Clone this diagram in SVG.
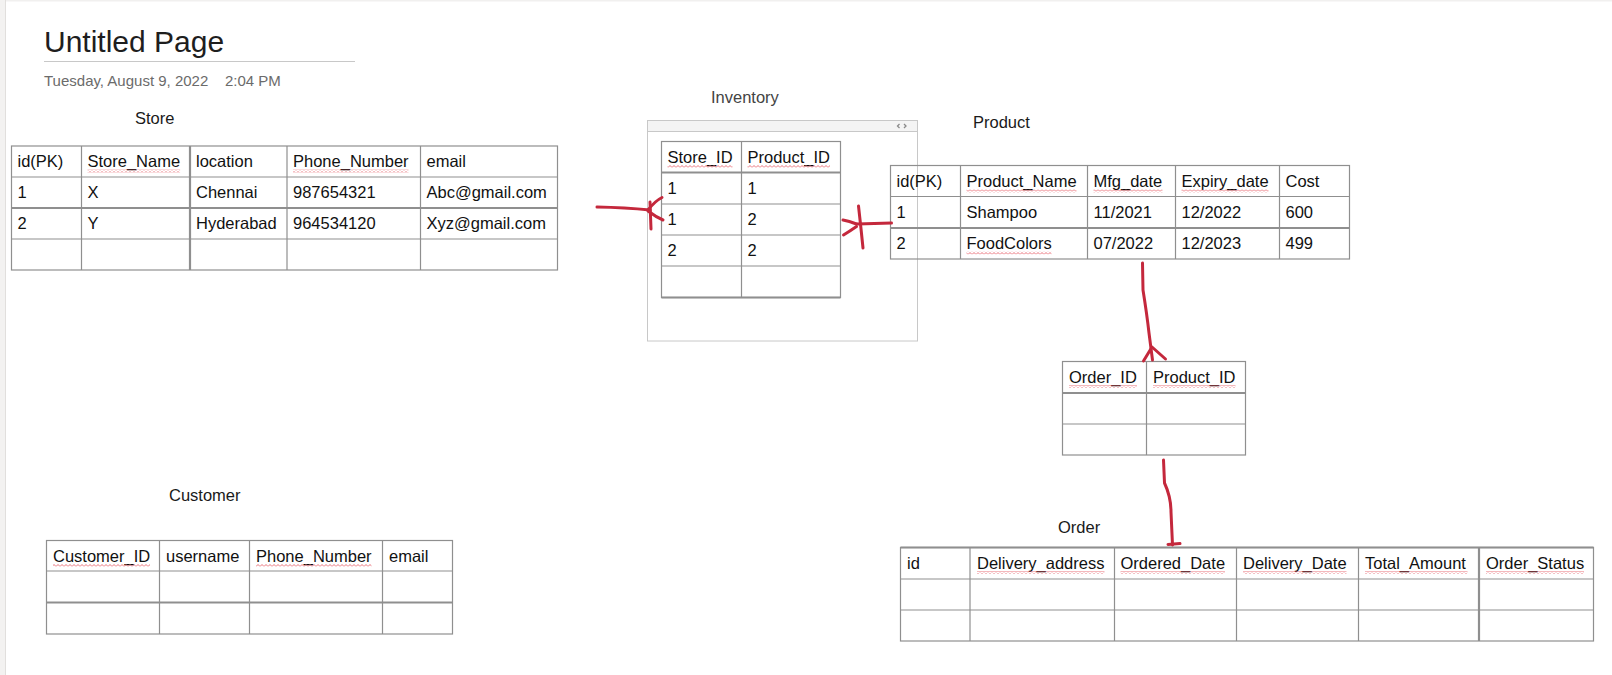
<svg xmlns="http://www.w3.org/2000/svg" width="1612" height="675" viewBox="0 0 1612 675">
<style>
.t{font-family:"Liberation Sans",Arial,sans-serif;font-size:16.5px;fill:#111}
.lbl{font-family:"Liberation Sans",Arial,sans-serif;font-size:16.5px;fill:#1a1a1a}
.g{stroke:#8f8f8f;stroke-width:1.2;fill:none}
.gt{stroke:#8f8f8f;stroke-width:2.2;fill:none}
.c{stroke:#c4283c;stroke-width:3;fill:none;stroke-linecap:round;stroke-linejoin:round}
.sq{fill:url(#squig)}
</style>
<defs>
<pattern id="squig" width="4" height="3" patternUnits="userSpaceOnUse">
<path d="M0 2.5 L2 0.5 L4 2.5" stroke="#e8626a" stroke-width="0.9" fill="none"/>
</pattern>
</defs>
<rect x="0" y="0" width="1612" height="675" fill="#fff"/>
<rect x="0" y="0" width="1612" height="1.5" fill="#f1f0ef"/>
<rect x="0" y="0" width="5" height="675" fill="#f3f2f1"/>
<line x1="5.5" y1="0" x2="5.5" y2="675" stroke="#e1dfdd"/>

<g id="page-title">
<text x="44" y="52" style="font-family:'Liberation Sans',Arial,sans-serif;font-size:30px;fill:#1e1e1e">Untitled Page</text>
<line x1="44" y1="61.5" x2="355" y2="61.5" stroke="#c8c8c8" stroke-width="1"/>
<text x="44" y="86" style="font-family:'Liberation Sans',Arial,sans-serif;font-size:15px;fill:#6b6b6b">Tuesday, August 9, 2022</text>
<text x="225" y="86" style="font-family:'Liberation Sans',Arial,sans-serif;font-size:15px;fill:#6b6b6b">2:04 PM</text>
</g>

<g id="store">
<text class="lbl" x="135" y="124">Store</text>
<rect class="g" x="11.5" y="146" width="546" height="124"/>
<line class="g" x1="11.5" y1="177" x2="557.5" y2="177"/>
<line class="gt" x1="11.5" y1="208" x2="557.5" y2="208"/>
<line class="g" x1="11.5" y1="239" x2="557.5" y2="239"/>
<line class="g" x1="81.5" y1="146" x2="81.5" y2="270"/>
<line class="gt" x1="190" y1="146" x2="190" y2="270"/>
<line class="g" x1="287" y1="146" x2="287" y2="270"/>
<line class="g" x1="420.5" y1="146" x2="420.5" y2="270"/>
<text class="t" x="17.5" y="167">id(PK)</text>
<text class="t" x="87.5" y="167">Store_Name</text>
<rect class="sq" x="87.5" y="169.5" width="92.6" height="3"/>
<text class="t" x="196" y="167">location</text>
<text class="t" x="293" y="167">Phone_Number</text>
<rect class="sq" x="293" y="169.5" width="115.5" height="3"/>
<text class="t" x="426.5" y="167">email</text>
<text class="t" x="17.5" y="198">1</text>
<text class="t" x="87.5" y="198">X</text>
<text class="t" x="196" y="198">Chennai</text>
<text class="t" x="293" y="198">987654321</text>
<text class="t" x="426.5" y="198">Abc@gmail.com</text>
<text class="t" x="17.5" y="229">2</text>
<text class="t" x="87.5" y="229">Y</text>
<text class="t" x="196" y="229">Hyderabad</text>
<text class="t" x="293" y="229">964534120</text>
<text class="t" x="426.5" y="229">Xyz@gmail.com</text>
</g>

<g id="inventory">
<text class="lbl" x="711" y="103" style="fill:#444">Inventory</text>
<rect x="647.5" y="120.5" width="270" height="220.5" fill="none" stroke="#c8c8c8"/>
<rect x="647.5" y="120.5" width="270" height="11" fill="#f4f4f4" stroke="#c8c8c8"/>
<path d="M899.5 124 L897.5 126 L899.5 128 M904 124 L906 126 L904 128" stroke="#8a8a8a" stroke-width="1.3" fill="none"/>
<rect class="g" x="661.5" y="141.5" width="179" height="156"/>
<line class="gt" x1="661.5" y1="172.5" x2="840.5" y2="172.5"/>
<line class="g" x1="661.5" y1="204" x2="840.5" y2="204"/>
<line class="g" x1="661.5" y1="235" x2="840.5" y2="235"/>
<line class="g" x1="661.5" y1="266" x2="840.5" y2="266"/>
<line class="gt" x1="661.5" y1="297.5" x2="840.5" y2="297.5"/>
<line class="g" x1="741.5" y1="141.5" x2="741.5" y2="297.5"/>
<text class="t" x="667.5" y="162.5">Store_ID</text>
<rect class="sq" x="667.5" y="165" width="65" height="3"/>
<text class="t" x="747.5" y="162.5">Product_ID</text>
<rect class="sq" x="747.5" y="165" width="82.5" height="3"/>
<text class="t" x="667.5" y="194">1</text>
<text class="t" x="747.5" y="194">1</text>
<text class="t" x="667.5" y="225">1</text>
<text class="t" x="747.5" y="225">2</text>
<text class="t" x="667.5" y="256">2</text>
<text class="t" x="747.5" y="256">2</text>
</g>

<g id="product">
<text class="lbl" x="973" y="128">Product</text>
<rect class="g" x="890.5" y="165.5" width="459" height="93.5"/>
<line class="g" x1="890.5" y1="196.5" x2="1349.5" y2="196.5"/>
<line class="gt" x1="890.5" y1="228" x2="1349.5" y2="228"/>
<line class="g" x1="960.5" y1="165.5" x2="960.5" y2="259"/>
<line class="g" x1="1087.5" y1="165.5" x2="1087.5" y2="259"/>
<line class="g" x1="1175.5" y1="165.5" x2="1175.5" y2="259"/>
<line class="g" x1="1279.5" y1="165.5" x2="1279.5" y2="259"/>
<text class="t" x="896.5" y="187">id(PK)</text>
<text class="t" x="966.5" y="187">Product_Name</text>
<rect class="sq" x="966.5" y="189.5" width="110" height="3"/>
<text class="t" x="1093.5" y="187">Mfg_date</text>
<rect class="sq" x="1093.5" y="189.5" width="69" height="3"/>
<text class="t" x="1181.5" y="187">Expiry_date</text>
<rect class="sq" x="1181.5" y="189.5" width="87" height="3"/>
<text class="t" x="1285.5" y="187">Cost</text>
<text class="t" x="896.5" y="218">1</text>
<text class="t" x="966.5" y="218">Shampoo</text>
<text class="t" x="1093.5" y="218">11/2021</text>
<text class="t" x="1181.5" y="218">12/2022</text>
<text class="t" x="1285.5" y="218">600</text>
<text class="t" x="896.5" y="249">2</text>
<text class="t" x="966.5" y="249">FoodColors</text>
<rect class="sq" x="966.5" y="251.5" width="85" height="3"/>
<text class="t" x="1093.5" y="249">07/2022</text>
<text class="t" x="1181.5" y="249">12/2023</text>
<text class="t" x="1285.5" y="249">499</text>
</g>

<g id="order-product">
<rect class="g" x="1062.5" y="361.5" width="183" height="93.5"/>
<line class="gt" x1="1062.5" y1="393" x2="1245.5" y2="393"/>
<line class="g" x1="1062.5" y1="424" x2="1245.5" y2="424"/>
<line class="g" x1="1146.5" y1="361.5" x2="1146.5" y2="455"/>
<text class="t" x="1069" y="382.5">Order_ID</text>
<rect class="sq" x="1069" y="385" width="68" height="3"/>
<text class="t" x="1153" y="382.5">Product_ID</text>
<rect class="sq" x="1153" y="385" width="82.5" height="3"/>
</g>

<g id="order">
<text class="lbl" x="1058" y="533">Order</text>
<rect class="g" x="900.5" y="547.5" width="693" height="93.5"/>
<line class="gt" x1="900.5" y1="547.5" x2="1593.5" y2="547.5"/>
<line class="g" x1="900.5" y1="579" x2="1593.5" y2="579"/>
<line class="g" x1="900.5" y1="610" x2="1593.5" y2="610"/>
<line class="g" x1="970" y1="547.5" x2="970" y2="641"/>
<line class="g" x1="1114.5" y1="547.5" x2="1114.5" y2="641"/>
<line class="g" x1="1236.5" y1="547.5" x2="1236.5" y2="641"/>
<line class="g" x1="1358.5" y1="547.5" x2="1358.5" y2="641"/>
<line class="gt" x1="1479" y1="547.5" x2="1479" y2="641"/>
<text class="t" x="907" y="568.5">id</text>
<text class="t" x="977" y="568.5">Delivery_address</text>
<rect class="sq" x="977" y="571" width="127.5" height="3"/>
<text class="t" x="1120.5" y="568.5">Ordered_Date</text>
<rect class="sq" x="1120.5" y="571" width="104.5" height="3"/>
<text class="t" x="1243" y="568.5">Delivery_Date</text>
<rect class="sq" x="1243" y="571" width="103.5" height="3"/>
<text class="t" x="1365" y="568.5">Total_Amount</text>
<rect class="sq" x="1365" y="571" width="102.5" height="3"/>
<text class="t" x="1486" y="568.5">Order_Status</text>
<rect class="sq" x="1486" y="571" width="98" height="3"/>
</g>

<g id="customer">
<text class="lbl" x="169" y="501">Customer</text>
<rect class="g" x="46.5" y="540.5" width="406" height="93.5"/>
<line class="g" x1="46.5" y1="571" x2="452.5" y2="571"/>
<line class="gt" x1="46.5" y1="602.5" x2="452.5" y2="602.5"/>
<line class="g" x1="159.5" y1="540.5" x2="159.5" y2="634"/>
<line class="g" x1="249.5" y1="540.5" x2="249.5" y2="634"/>
<line class="g" x1="382.5" y1="540.5" x2="382.5" y2="634"/>
<text class="t" x="53" y="561.5">Customer_ID</text>
<rect class="sq" x="53" y="564" width="97" height="3"/>
<text class="t" x="166" y="561.5">username</text>
<text class="t" x="256" y="561.5">Phone_Number</text>
<rect class="sq" x="256" y="564" width="115.5" height="3"/>
<text class="t" x="389" y="561.5">email</text>
</g>

<g id="connectors">
<path class="c" d="M597 207 Q625 207.5 650 210"/>
<path class="c" d="M648 210 Q655 201 662 197.5"/>
<path class="c" d="M648 211 Q656 217 663 220"/>
<path class="c" d="M650 202 L651 229"/>
<path class="c" d="M891.5 223 L857 224"/>
<path class="c" d="M856.5 224 Q849 221 843 220"/>
<path class="c" d="M856.5 226.5 Q850 231 843.5 235"/>
<path class="c" d="M858.5 206 Q861 228 863 248"/>
<path class="c" d="M1142.5 263 L1143 290 Q1147 315 1149 333 L1152.5 360"/>
<path class="c" d="M1143.5 361 L1152 347 L1165.5 359"/>
<path class="c" d="M1163.5 460 L1164.5 483 Q1171 497 1171 512 L1172.5 545"/>
<path class="c" d="M1168 544.5 L1180 543.5"/>
</g>
</svg>
